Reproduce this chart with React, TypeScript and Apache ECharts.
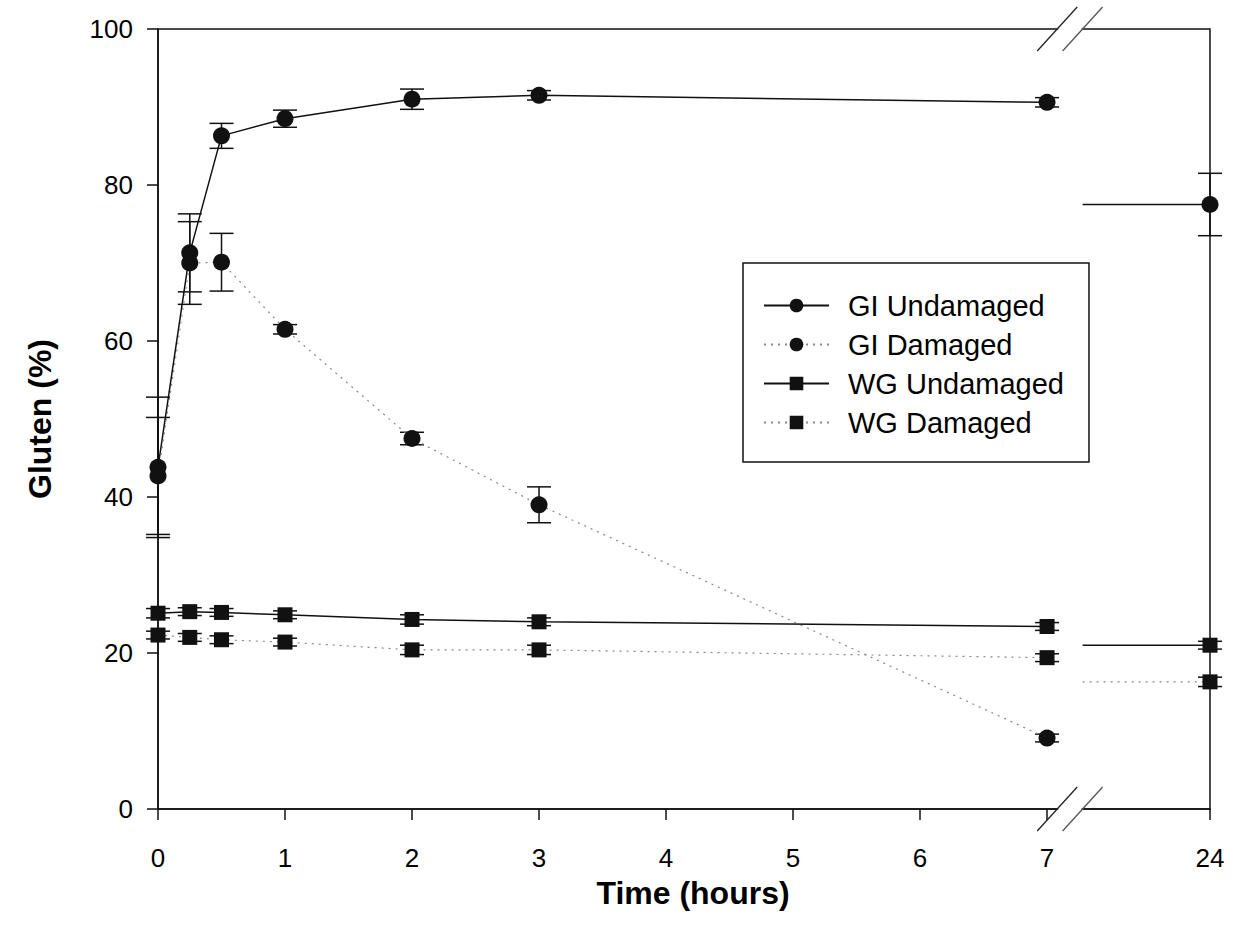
import React, { useEffect, useRef } from 'react';
import * as echarts from 'echarts';

// ---- data ----
const hours = [0, 0.25, 0.5, 1, 2, 3, 7, 24];
const xTickHours = [0, 1, 2, 3, 4, 5, 6, 7, 24];
const yTicks = [0, 20, 40, 60, 80, 100];

const giUndamaged = [43.8, 71.3, 86.3, 88.5, 91.0, 91.5, 90.6, 77.5];
const giUndamagedErr = [9.0, 5.0, 1.6, 1.1, 1.3, 0.6, 0.6, 4.0];
const giDamaged = [42.7, 70.0, 70.1, 61.5, 47.5, 39.0, 9.1, null];
const giDamagedErr = [7.5, 5.3, 3.7, 0.6, 0.8, 2.3, 0.5, null];
const wgUndamaged = [25.1, 25.3, 25.2, 24.9, 24.3, 24.0, 23.4, 21.0];
const wgUndamagedErr = [0.6, 0.5, 0.5, 0.5, 0.6, 0.5, 0.5, 0.5];
const wgDamaged = [22.3, 22.0, 21.7, 21.4, 20.4, 20.4, 19.4, 16.3];
const wgDamagedErr = [0.5, 0.5, 0.5, 0.5, 0.6, 0.6, 0.5, 0.6];

const seriesNames = ['GI Undamaged', 'GI Damaged', 'WG Undamaged', 'WG Damaged'];

// ---- broken time axis: 0..7 h linear, then a break, then 24 h ----
const LAST_LINEAR_HOUR = 7;
const BREAK_START = 7.08;
const BREAK_END = 7.28;
const POS_LAST = 8.283;

function hourToPos(h: number): number {
  return h <= LAST_LINEAR_HOUR ? h : POS_LAST;
}

function lineData(values: (number | null)[]) {
  const out: any[] = [];
  hours.forEach((h, i) => {
    const v = values[i];
    if (v == null) return;
    if (h > LAST_LINEAR_HOUR) {
      out.push([(BREAK_START + BREAK_END) / 2, '-']);
      out.push({ value: [BREAK_END, v], symbol: 'none' });
    }
    out.push([hourToPos(h), v]);
  });
  return out;
}

function errData(values: (number | null)[], errs: (number | null)[]) {
  const out: number[][] = [];
  hours.forEach((h, i) => {
    const v = values[i];
    const e = errs[i];
    if (v == null || e == null) return;
    out.push([hourToPos(h), v - e, v + e]);
  });
  return out;
}

const FONT = "'Liberation Sans', Arial, Helvetica, sans-serif";
const INK = '#111';

function errorSeries(values: (number | null)[], errs: (number | null)[]) {
  return {
    type: 'custom',
    silent: true,
    z: 1,
    clip: false,
    data: errData(values, errs),
    encode: { x: 0, y: [1, 2] },
    renderItem: (params: any, api: any) => {
      const x = api.value(0);
      const lo = api.value(1);
      const hi = api.value(2);
      const pHi = api.coord([x, hi]);
      const pLo = api.coord([x, lo]);
      const hw = 12;
      const style = { stroke: INK, lineWidth: 1.5 };
      return {
        type: 'group',
        children: [
          { type: 'line', shape: { x1: pHi[0], y1: pHi[1], x2: pLo[0], y2: pLo[1] }, style },
          { type: 'line', shape: { x1: pHi[0] - hw, y1: pHi[1], x2: pHi[0] + hw, y2: pHi[1] }, style },
          { type: 'line', shape: { x1: pLo[0] - hw, y1: pLo[1], x2: pLo[0] + hw, y2: pLo[1] }, style },
        ],
      };
    },
  };
}

function lineSeries(name: string, values: (number | null)[], symbol: string, dotted: boolean) {
  return {
    type: 'line',
    name,
    z: 3,
    data: lineData(values),
    symbol,
    symbolSize: symbol === 'circle' ? 17 : 15,
    connectNulls: false,
    itemStyle: { color: INK },
    lineStyle: dotted
      ? { color: '#888', width: 1.2, type: [2, 5] }
      : { color: INK, width: 1.5, type: 'solid' },
  };
}

export default function App() {
  const ref = useRef<HTMLDivElement>(null);

  useEffect(() => {
    document.body.style.margin = '0';
    if (!ref.current) return;
    const chart = echarts.init(ref.current, null, { renderer: 'svg' });

    const option: any = {
      animation: false,
      backgroundColor: '#fff',
      textStyle: { fontFamily: FONT },
      grid: {
        left: 158,
        top: 29,
        width: 1052,
        height: 780,
        show: true,
        borderColor: INK,
        borderWidth: 1.5,
        backgroundColor: 'transparent',
      },
      legend: {
        data: seriesNames,
        orient: 'vertical',
        left: 743,
        top: 263,
        padding: [28, 25, 25, 20],
        itemGap: 10,
        itemWidth: 65,
        itemHeight: 17,
        borderColor: INK,
        borderWidth: 1.5,
        backgroundColor: '#fff',
        selectedMode: false,
        textStyle: {
          fontFamily: FONT,
          fontSize: 29,
          color: '#000',
          lineHeight: 29,
          padding: [0, 0, 0, 14],
        },
      },
      xAxis: {
        type: 'value',
        min: 0,
        max: POS_LAST,
        interval: 1,
        name: 'Time (hours)',
        nameLocation: 'middle',
        nameGap: 68,
        nameTextStyle: {
          fontFamily: FONT,
          fontSize: 32,
          fontWeight: 'bold',
          color: '#000',
          padding: [0, 0, 0, 18],
        },
        splitLine: { show: false },
        axisLine: { show: true, lineStyle: { color: INK, width: 1.5 } },
        axisTick: {
          show: true,
          length: 11,
          lineStyle: { color: INK, width: 1.5 },
          customValues: xTickHours.map(hourToPos),
        },
        axisLabel: {
          fontFamily: FONT,
          fontSize: 26,
          color: '#000',
          margin: 36,
          customValues: xTickHours.map(hourToPos),
          formatter: (v: number) => {
            const idx = xTickHours.findIndex((h) => Math.abs(hourToPos(h) - v) < 1e-6);
            return idx >= 0 ? String(xTickHours[idx]) : '';
          },
        },
      },
      yAxis: {
        type: 'value',
        min: 0,
        max: 100,
        interval: 20,
        name: 'Gluten (%)',
        nameLocation: 'middle',
        nameGap: 102,
        nameTextStyle: { fontFamily: FONT, fontSize: 32, fontWeight: 'bold', color: '#000' },
        splitLine: { show: false },
        axisLine: { show: true, lineStyle: { color: INK, width: 1.5 } },
        axisTick: { show: true, length: 11, lineStyle: { color: INK, width: 1.5 }, customValues: yTicks },
        axisLabel: { fontFamily: FONT, fontSize: 26, color: '#000', margin: 25, customValues: yTicks },
      },
      series: [
        errorSeries(giUndamaged, giUndamagedErr),
        errorSeries(giDamaged, giDamagedErr),
        errorSeries(wgUndamaged, wgUndamagedErr),
        errorSeries(wgDamaged, wgDamagedErr),
        lineSeries('GI Undamaged', giUndamaged, 'circle', false),
        lineSeries('GI Damaged', giDamaged, 'circle', true),
        lineSeries('WG Undamaged', wgUndamaged, 'rect', false),
        lineSeries('WG Damaged', wgDamaged, 'rect', true),
      ],
    };
    chart.setOption(option);

    // axis-break marks on the top frame and the bottom axis
    const marks: any[] = [];
    [100, 0].forEach((yv) => {
      const pa = chart.convertToPixel({ gridIndex: 0 }, [BREAK_START, yv]) as number[];
      const pb = chart.convertToPixel({ gridIndex: 0 }, [BREAK_END, yv]) as number[];
      const y = pa[1];
      marks.push({
        type: 'rect',
        shape: { x: pa[0] + 1, y: y - 3, width: pb[0] - pa[0] - 2, height: 6 },
        style: { fill: '#fff' },
        z: 100,
      });
      [pa[0], pb[0]].forEach((x, k) => {
        marks.push({
          type: 'line',
          shape: { x1: x - 20, y1: y + 22, x2: x + 20, y2: y - 22 },
          style: { stroke: k === 0 ? '#222' : '#555', lineWidth: 1.3 },
          z: 101,
        });
      });
    });
    chart.setOption({ graphic: marks });

    return () => chart.dispose();
  }, []);

  return <div ref={ref} style={{ width: 1234, height: 944 }} />;
}
